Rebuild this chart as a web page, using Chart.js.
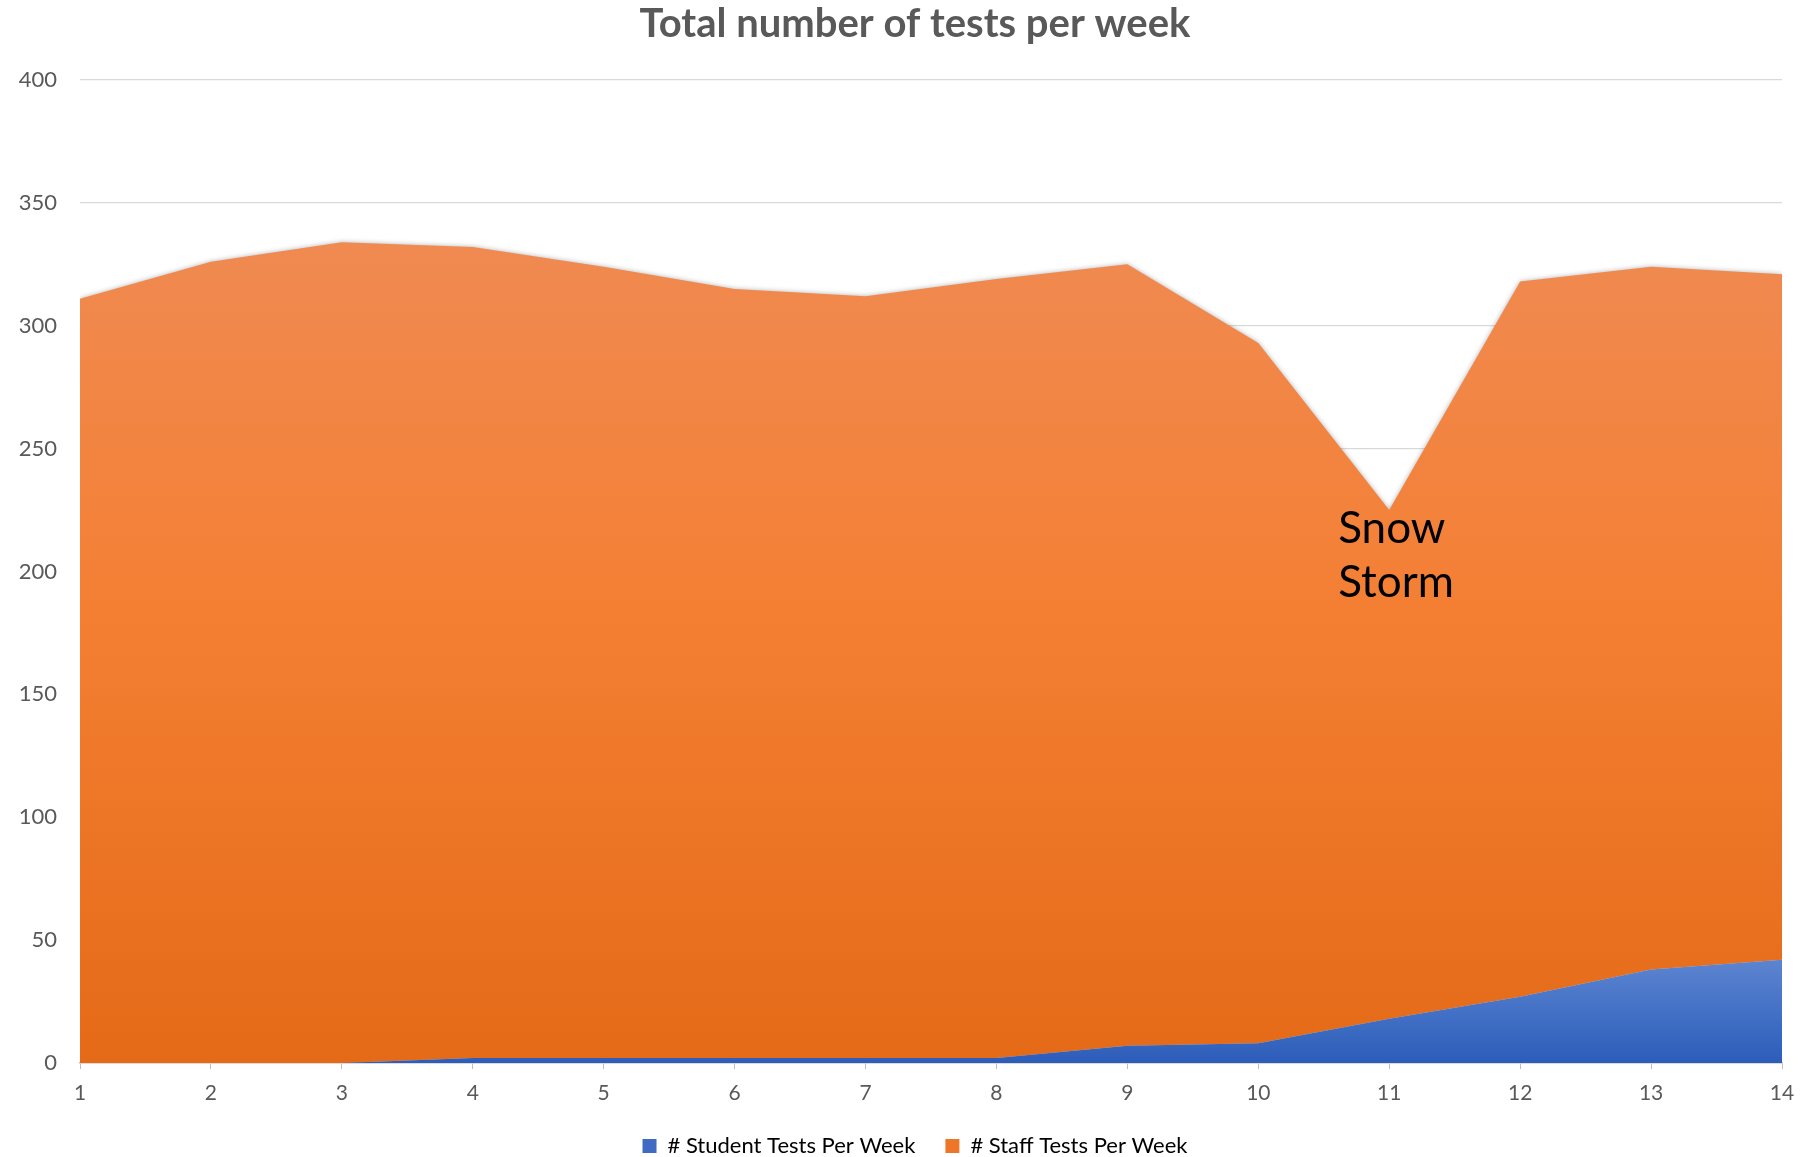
<!DOCTYPE html>
<html>
<head>
<meta charset="utf-8">
<title>Total number of tests per week</title>
<script src="https://cdn.jsdelivr.net/npm/chart.js@4.4.1/dist/chart.umd.min.js"></script>
<style>
  html, body { margin: 0; padding: 0; background: #fff; }
  #wrap { width: 1813px; height: 1157px; }
</style>
</head>
<body>
<div id="wrap"><canvas id="tests-chart"></canvas></div>
<script>
const weeks = ['1', '2', '3', '4', '5', '6', '7', '8', '9', '10', '11', '12', '13', '14'];
const studentTests = [0, 0, 0, 2, 2, 2, 2, 2, 7, 8, 18, 27, 38, 42];
const staffTests = [311, 326, 334, 330, 322, 313, 310, 317, 318, 285, 207, 291, 286, 279];
const yTicks = [0, 50, 100, 150, 200, 250, 300, 350, 400];

const totals = staffTests.map((v, i) => v + studentTests[i]);
const textGrey = '#595959';

// vertical gradient spanning from the top of a series down to the axis
function areaGradient(chart, peak, stops, fallback) {
    const area = chart.chartArea;
    const y = chart.scales.y;
    if (!area || !y) return fallback;
    const g = chart.ctx.createLinearGradient(0, y.getPixelForValue(peak), 0, area.bottom);
    stops.forEach(([at, c]) => g.addColorStop(at, c));
    return g;
}

// soft glow around the staff area (drawn first), plus the "Snow Storm" note
const snowLabel = {
    id: 'snowLabel',
    beforeDatasetsDraw(chart) {
        const ctx = chart.ctx;
        ctx.save();
        ctx.shadowColor = 'rgba(0, 0, 0, 0.3)';
        ctx.shadowBlur = 5;
        ctx.shadowOffsetX = 0;
        ctx.shadowOffsetY = 0;
    },
    afterDatasetDraw(chart, args) {
        if (args.index === 1) chart.ctx.restore();
    },
    afterDatasetsDraw(chart) {
        const {ctx, scales: {x, y}} = chart;
        const idx = 10;
        const px = x.getPixelForValue(idx) - 51;
        const py = y.getPixelForValue(totals[idx]);
        ctx.save();
        ctx.fillStyle = '#000';
        ctx.font = '44px Lato';
        ctx.textAlign = 'left';
        ctx.textBaseline = 'alphabetic';
        ctx.fillText('Snow', px, py + 33);
        ctx.fillText('Storm', px, py + 87);
        ctx.restore();
    }
};

const ctx = document.getElementById('tests-chart').getContext('2d');

const chart = new Chart(ctx, {
    type: 'line',
    data: {
        labels: weeks,
        datasets: [
            {
                label: '# Student Tests Per Week',
                data: studentTests,
                fill: 'origin',
                backgroundColor: (c) => areaGradient(c.chart, Math.max(...studentTests),
                    [[0, '#5D84D0'], [0.5, '#4371C6'], [1, '#2D5DB9']], '#4472C4'),
                borderWidth: 0,
                pointRadius: 0,
                tension: 0,
            },
            {
                label: '# Staff Tests Per Week',
                data: staffTests,
                fill: '-1',
                backgroundColor: (c) => areaGradient(c.chart, Math.max(...totals),
                    [[0, '#F08A51'], [0.45, '#F47F33'], [1, '#E46A17']], '#ED7D31'),
                borderWidth: 0,
                pointRadius: 0,
                tension: 0,
            }
        ]
    },
    options: {
        responsive: true,
        maintainAspectRatio: false,
        animation: false,
        layout: {
            padding: { left: 17, right: 0, top: 0, bottom: -10 }
        },
        scales: {
            x: {
                offset: false,
                grid: {
                    drawOnChartArea: false,
                    color: '#BFBFBF',
                    tickLength: 6,
                },
                border: { color: '#BFBFBF', width: 1.5 },
                ticks: {
                    color: textGrey,
                    font: { family: 'Lato', size: 21 },
                    padding: 12,
                    maxRotation: 0,
                },
                afterFit: (scale) => { scale.height = 42; }
            },
            y: {
                stacked: true,
                min: 0,
                max: 400,
                afterBuildTicks: (scale) => {
                    scale.ticks = yTicks.map(v => ({ value: v }));
                },
                grid: {
                    color: '#D9D9D9',
                    lineWidth: 1.3,
                    drawTicks: false,
                    tickLength: 0,
                },
                border: { display: false },
                ticks: {
                    color: textGrey,
                    font: { family: 'Lato', size: 22 },
                    padding: 23,
                },
                afterFit: (scale) => { scale.width = 63; }
            },
            // empty margin on the right of the plot
            gutter: {
                type: 'linear',
                position: 'right',
                min: 0,
                max: 400,
                grid: { display: false },
                border: { display: false },
                ticks: { display: false },
                afterFit: (scale) => { scale.width = 31; }
            }
        },
        plugins: {
            title: {
                display: true,
                text: 'Total number of tests per week',
                color: textGrey,
                font: { family: 'Lato', size: 40, weight: 'bold' },
                padding: { top: 0, bottom: 32 }
            },
            legend: {
                display: true,
                position: 'bottom',
                labels: {
                    color: textGrey,
                    font: { family: 'Lato', size: 22 },
                    boxWidth: 14,
                    boxHeight: 14,
                    padding: 30,
                    generateLabels: (ch) => ch.data.datasets.map((ds, i) => ({
                        text: ds.label,
                        fillStyle: i === 0 ? '#3F6CC2' : '#EE7628',
                        strokeStyle: 'rgba(0,0,0,0)',
                        lineWidth: 0,
                        datasetIndex: i,
                        hidden: false,
                    }))
                }
            },
            tooltip: {
                mode: 'index',
                intersect: false,
            }
        }
    },
    plugins: [snowLabel]
});
</script>
</body>
</html>
